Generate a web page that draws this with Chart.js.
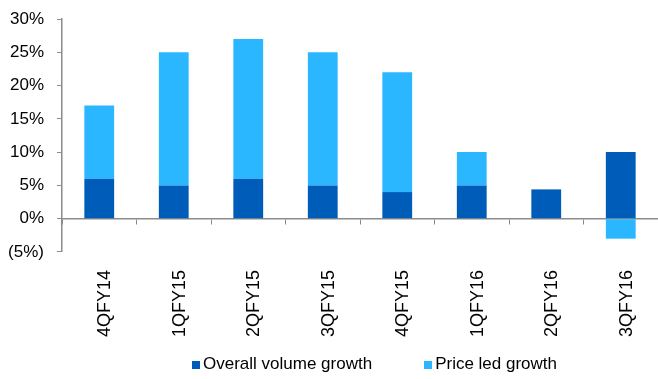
<!DOCTYPE html>
<html>
<head>
<meta charset="utf-8">
<script src="https://cdn.jsdelivr.net/npm/chart.js@4"></script>
<style>
  html, body { margin: 0; padding: 0; background: #fff; }
  #wrap { position: relative; width: 658px; height: 379px; }
  #legend {
    position: absolute; left: 192px; top: 354px;
    display: flex; align-items: center;
    font-family: "Liberation Sans", Arial, sans-serif; font-size: 17px; color: #000;
    white-space: nowrap; line-height: 20px;
  }
  #legend .item { display: flex; align-items: center; margin-right: 52px; }
  #legend .box { width: 8px; height: 8px; margin-right: 3px; margin-top: 2px; }
</style>
</head>
<body>
<div id="wrap">
  <canvas id="chart-canvas"></canvas>
  <div id="legend"></div>
</div>
<script>
const quarters = ['4QFY14', '1QFY15', '2QFY15', '3QFY15', '4QFY15', '1QFY16', '2QFY16', '3QFY16'];
const volumeGrowth = [6, 5, 6, 5, 4, 5, 4.4, 10];
const priceGrowth = [11, 20, 21, 20, 18, 5, 0, -3];
const yTicks = [-5, 0, 5, 10, 15, 20, 25, 30];

const axisGrey = '#8c8c8c';
const font = { family: "Liberation Sans, Arial, sans-serif", size: 17 };
const xFont = { family: "Liberation Sans, Arial, sans-serif", size: 18 };

const fmtPct = (v) => v < 0 ? '(' + Math.abs(v) + '%)' : v + '%';

const chart = new Chart(document.querySelector('#chart-canvas'), {
  type: 'bar',
  data: {
    labels: quarters,
    datasets: [{
      label: 'Overall volume growth',
      data: volumeGrowth,
      backgroundColor: '#005cb9',
      barPercentage: 0.4,
      categoryPercentage: 1
    }, {
      label: 'Price led growth',
      data: priceGrowth,
      backgroundColor: '#2ab7ff',
      barPercentage: 0.4,
      categoryPercentage: 1
    }]
  },
  options: {
    responsive: true,
    maintainAspectRatio: false,
    animation: false,
    layout: { padding: { left: 0, right: 0, top: 19, bottom: 32 } },
    plugins: {
      tooltip: { enabled: false },
      legend: { display: false }
    },
    scales: {
      x: {
        stacked: true,
        grid: { display: false },
        border: { display: false },
        ticks: {
          color: '#000',
          font: xFont,
          minRotation: 90,
          maxRotation: 90,
          padding: 10,
          labelOffset: 6
        }
      },
      // zero line with the little category ticks
      x2: {
        type: 'category',
        labels: quarters,
        position: { y: 0 },
        offset: true,
        grid: {
          offset: true,
          drawOnChartArea: false,
          drawTicks: true,
          tickLength: 5,
          color: axisGrey
        },
        border: { display: true, color: axisGrey, width: 1.5 },
        ticks: { display: false }
      },
      y: {
        stacked: true,
        min: -5,
        max: 30,
        afterBuildTicks: (axis) => { axis.ticks = yTicks.map(v => ({ value: v })); },
        afterFit: (axis) => { axis.width = 62; axis.paddingTop = 0; },
        grid: {
          drawOnChartArea: false,
          drawTicks: true,
          tickLength: 5,
          color: axisGrey
        },
        border: { display: true, color: axisGrey, width: 1.5 },
        ticks: {
          color: '#000',
          font: font,
          padding: 13,
          callback: (v) => fmtPct(v)
        }
      }
    }
  }
});

// legend as html, built from the datasets
const legendEl = document.querySelector('#legend');
chart.data.datasets.forEach((ds) => {
  const item = document.createElement('div');
  item.className = 'item';
  const box = document.createElement('span');
  box.className = 'box';
  box.style.background = ds.backgroundColor;
  const txt = document.createElement('span');
  txt.textContent = ds.label;
  item.appendChild(box);
  item.appendChild(txt);
  legendEl.appendChild(item);
});
</script>
</body>
</html>
